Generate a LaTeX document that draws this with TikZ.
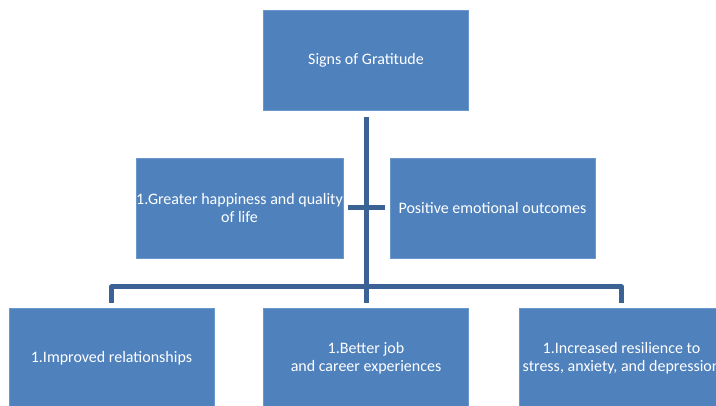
\documentclass[tikz,border=0pt]{standalone}
\usepackage{fontspec}
\setmainfont{Carlito}
\definecolor{boxfill}{HTML}{4F81BD}
\definecolor{boxedge}{HTML}{6A97CC}
\definecolor{linkblue}{HTML}{3B6294}
\begin{document}
\begin{tikzpicture}[x=1pt,y=1pt,
  card/.style={rectangle, fill=boxfill, draw=boxedge, line width=0.6pt,
    minimum width=205pt, minimum height=100pt, inner sep=0pt,
    align=center, text=white, font=\fontsize{16}{17.5}\selectfont},
  conn/.style={draw=linkblue, line width=5pt, line join=round}]
\useasboundingbox (0,0) rectangle (716,405);
\fill[white] (0,0) rectangle (716,405);

% root and second level
\node[card] (top) at (366,345) {Signs of Gratitude};
\node[card] (ml) at (239.5,197) {1.Greater happiness and quality\\of life};
\node[card] (mr) at (492.5,197) {Positive emotional outcomes};

% third level
\node[card] (bl) at (111.5,47) {1.Improved relationships};
\node[card] (bm) at (366,47) {1.Better job\\and career experiences};
\node[card] (br) at (621.5,47) {1.Increased resilience to\\stress, anxiety, and depression};

% connectors
\coordinate (bar) at (366,118);
\draw[conn] ([yshift=-7pt]top.south) -- ([yshift=5pt]bm.north);
\draw[conn] ([xshift=5pt]ml.east) -- ([xshift=-5pt]mr.west);
\draw[conn] ([yshift=5pt]bl.north) |- (bar) -| ([yshift=5pt]br.north);
\end{tikzpicture}
\end{document}
